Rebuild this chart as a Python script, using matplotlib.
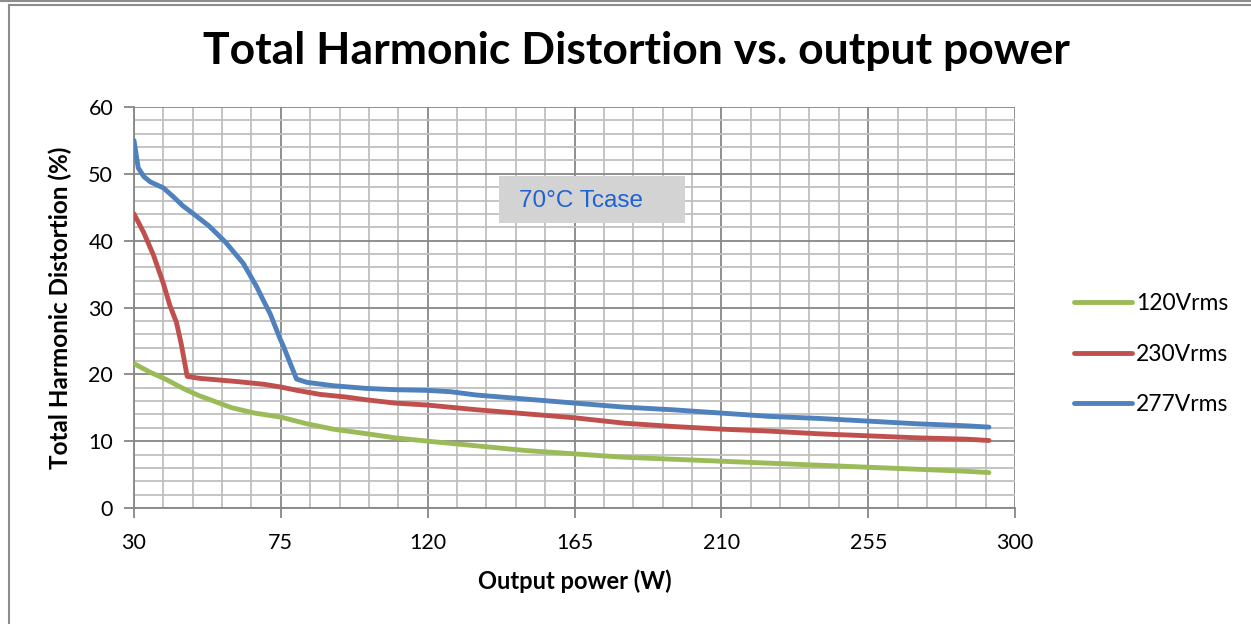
import numpy as np
import matplotlib.pyplot as plt
from matplotlib.lines import Line2D
from matplotlib.patches import Rectangle

plt.rcParams['font.family'] = ['Lato', 'DejaVu Sans']

# dados
p_120 = [30, 35, 40, 45, 50, 55, 60, 67, 75, 83, 91, 100, 110, 120, 135, 150, 165, 180, 195, 210, 225, 240, 255, 270, 285, 292]
thd_120 = [21.6, 20.3, 19.2, 17.9, 16.8, 15.9, 15.0, 14.2, 13.6, 12.6, 11.8, 11.2, 10.5, 10.0, 9.3, 8.6, 8.1, 7.6, 7.3, 7.0, 6.7, 6.4, 6.1, 5.8, 5.5, 5.3]

p_230 = [30, 33, 36, 39, 41, 43, 44.5, 46.3, 50, 55, 62, 70, 75, 80, 87, 95, 101, 110, 120, 135, 150, 165, 180, 195, 210, 225, 240, 255, 270, 285, 292]
thd_230 = [44.0, 41.2, 37.8, 33.6, 30.3, 27.8, 24.5, 19.7, 19.4, 19.2, 18.9, 18.5, 18.1, 17.6, 17.0, 16.6, 16.2, 15.7, 15.4, 14.7, 14.1, 13.5, 12.7, 12.2, 11.8, 11.5, 11.1, 10.8, 10.5, 10.3, 10.1]

p_277 = [30, 31.3, 33, 35, 39, 42, 45, 48, 53, 58, 63.5, 67.6, 69.6, 71.7, 74.7, 75.8, 79.8, 83, 91, 101, 110, 120, 127, 135, 150, 165, 180, 195, 210, 225, 240, 255, 270, 285, 292]
thd_277 = [55.0, 50.9, 49.6, 48.8, 47.9, 46.6, 45.2, 44.1, 42.2, 39.8, 36.6, 33.1, 31.1, 29.1, 25.4, 24.2, 19.3, 18.8, 18.3, 17.9, 17.7, 17.6, 17.4, 16.9, 16.3, 15.7, 15.1, 14.7, 14.2, 13.7, 13.4, 13.0, 12.6, 12.3, 12.1]

series = [('120Vrms', p_120, thd_120, '#9BBB59'),
          ('230Vrms', p_230, thd_230, '#C0504D'),
          ('277Vrms', p_277, thd_277, '#4F81BD')]

x_ticks = [30, 75, 120, 165, 210, 255, 300]
y_ticks = [0, 10, 20, 30, 40, 50, 60]

fig = plt.figure(figsize=(12.51, 6.24), dpi=100)
ax = fig.add_axes([0.1071, 0.1859, 0.7043, 0.6426])

for nome, x, y, cor in series:
    ax.plot(x, y, color=cor, lw=3.5, label=nome, solid_capstyle='round', solid_joinstyle='round', zorder=3)

ax.set_xlim(30, 300)
ax.set_ylim(0, 60)
ax.set_xticks(x_ticks)
ax.set_xticks(np.arange(30, 301, 9), minor=True)
ax.set_yticks(y_ticks)
ax.set_yticks(np.arange(0, 61, 2), minor=True)
ax.grid(which='minor', color='#BFBFBF', lw=1.3)
ax.grid(which='major', color='#878787', lw=1.3)
ax.set_axisbelow(True)
for s in ['top', 'right']:
    ax.spines[s].set_visible(False)
for s in ['left', 'bottom']:
    ax.spines[s].set_color('#878787')
    ax.spines[s].set_linewidth(1.3)
ax.tick_params(which='major', length=7, width=1.3, color='#878787', labelsize=15.5)
ax.tick_params(axis='x', which='major', pad=11)
ax.tick_params(axis='y', which='major', pad=8)
ax.tick_params(which='minor', length=0)

ax.set_xlabel('Output power (W)', fontsize=17, fontweight='bold', labelpad=12)
ax.set_ylabel('Total Harmonic Distortion (%)', fontsize=17.5, fontweight='bold', labelpad=12)
fig.text(0.509, 0.918, 'Total Harmonic Distortion vs. output power', ha='center', va='center',
         fontsize=32, fontweight='bold')

# caixa de texto
ax.add_patch(Rectangle((141.9, 42.6), 57, 7.1, facecolor='#D3D3D3', edgecolor='none', zorder=4))
ax.text(148, 46.0, '70°C Tcase', color='#1F62D2', fontsize=17.5, va='center', ha='left',
        family='Liberation Sans', zorder=5)

leg = ax.legend(loc='center left', bbox_to_anchor=(1.044, 0.384), frameon=False, fontsize=16.5,
                handlelength=2.5, handletextpad=0.2, labelspacing=1.3)

# moldura
fig.add_artist(Line2D([0, 1], [0.9985, 0.9985], color='#8C8C8C', lw=1.5, transform=fig.transFigure))
fig.add_artist(Line2D([0.0068, 1], [0.9922, 0.9922], color='#8C8C8C', lw=1.5, transform=fig.transFigure))
fig.add_artist(Line2D([0.0068, 0.0068], [0, 0.9922], color='#8C8C8C', lw=1.5, transform=fig.transFigure))

fig.savefig('out.png', dpi=100)
